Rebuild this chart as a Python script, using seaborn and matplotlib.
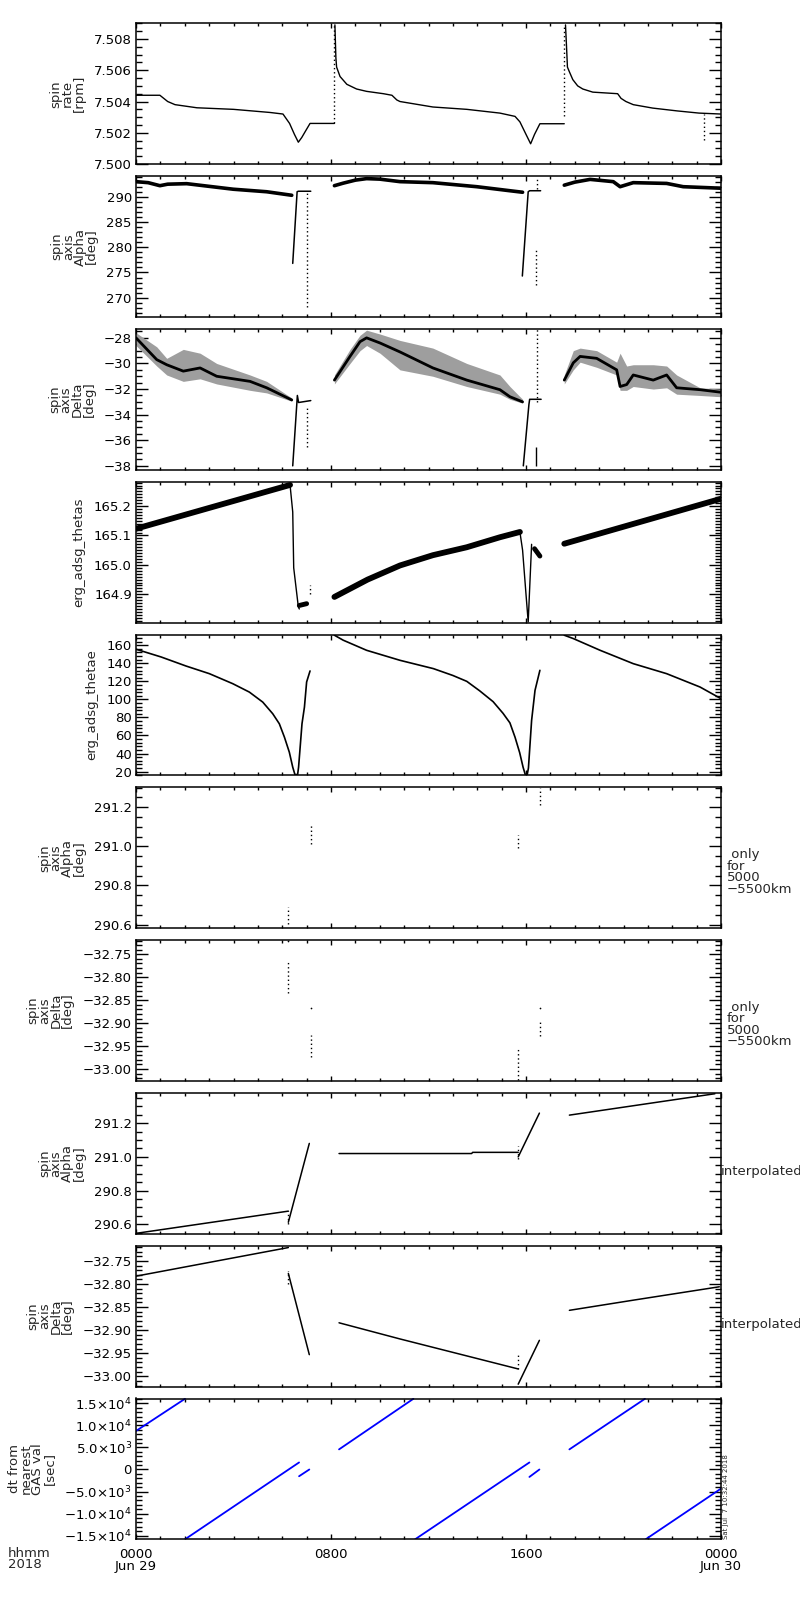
import numpy as np
import pandas as pd
import seaborn as sns
import matplotlib.pyplot as plt
from matplotlib.ticker import MultipleLocator, FuncFormatter

# time axis is hours since 0000 Jun 29 2018

# --- spin rate [rpm]
rate_a_t = [0.0, 0.98, 1.3, 1.6, 2.5, 4.0, 5.5, 6.03, 6.30, 6.50, 6.66, 6.80, 6.95, 7.14, 8.14]
rate_a_v = [7.5044, 7.5044, 7.5040, 7.5038, 7.5036, 7.5035, 7.5033, 7.5032, 7.5026, 7.5019,
            7.5014, 7.5017, 7.5021, 7.5026, 7.5026]
rate_b_t = [8.16, 8.20, 8.23, 8.37, 8.65, 9.05, 9.46, 10.15, 10.50, 10.70, 10.83, 12.18, 13.57,
            14.93, 15.55, 15.75, 16.00, 16.19, 16.35, 16.57, 17.57]
rate_b_v = [7.5089, 7.5068, 7.5062, 7.5056, 7.5051, 7.5048, 7.50465, 7.5045, 7.5044, 7.5041,
            7.5040, 7.50365, 7.5035, 7.50326, 7.50305, 7.5027, 7.5019, 7.5013, 7.5019, 7.50258, 7.50258]
rate_c_t = [17.62, 17.66, 17.70, 17.78, 17.92, 18.12, 18.33, 18.74, 19.76, 19.90, 20.10, 20.40,
            21.20, 22.20, 23.10, 24.0]
rate_c_v = [7.5089, 7.5076, 7.5062, 7.5059, 7.5054, 7.5050, 7.5048, 7.5046, 7.5045, 7.5042,
            7.5040, 7.5038, 7.50358, 7.5034, 7.50326, 7.5032]
rate_spike_t = [8.14, 17.57, 23.31]
rate_spike_lo = [7.5026, 7.5031, 7.50155]
rate_spike_hi = [7.5089, 7.5088, 7.5032]

# --- spin axis Alpha [deg]
alpha_a_t = [0.0, 0.5, 0.98, 1.3, 2.08, 3.99, 5.36, 6.39]
alpha_a_v = [293.0, 292.8, 292.2, 292.5, 292.6, 291.5, 291.0, 290.3]
alpha_b_t = [6.43, 6.61, 6.66, 7.17]
alpha_b_v = [276.8, 291.0, 291.1, 291.1]
alpha_c_t = [8.14, 8.50, 9.00, 9.46, 10.00, 10.83, 12.18, 13.98, 15.34, 15.86]
alpha_c_v = [292.2, 292.7, 293.3, 293.6, 293.5, 293.0, 292.8, 292.0, 291.2, 290.9]
alpha_d_t = [15.85, 16.09, 16.15, 16.60]
alpha_d_v = [274.3, 291.0, 291.2, 291.2]
alpha_e_t = [17.57, 18.00, 18.63, 19.58, 19.86, 20.40, 21.77, 22.45, 24.0]
alpha_e_v = [292.3, 292.9, 293.45, 293.0, 292.0, 292.8, 292.65, 292.0, 291.7]
alpha_spike_t = [7.0, 16.42, 16.46]
alpha_spike_lo = [268.2, 272.5, 291.5]
alpha_spike_hi = [291.0, 279.4, 293.5]

# --- spin axis Delta [deg]  (centre of the point cloud, plus its upper / lower edge)
delta_a_t = [0.0, 0.85, 1.26, 1.94, 2.63, 3.31, 4.68, 5.36, 6.39]
delta_a_v = [-28.0, -29.7, -30.1, -30.6, -30.35, -31.0, -31.4, -31.9, -32.85]
delta_a_hi = [-27.6, -28.7, -29.6, -28.9, -29.2, -30.0, -30.9, -31.4, -32.7]
delta_a_lo = [-28.6, -30.2, -30.9, -31.4, -31.2, -31.6, -32.1, -32.3, -32.95]
delta_b_t = [6.43, 6.62, 6.67, 7.17]
delta_b_v = [-38.0, -32.5, -33.05, -32.9]
delta_c_t = [8.14, 8.78, 9.19, 9.46, 10.01, 10.83, 12.18, 13.57, 14.93, 15.34, 15.86]
delta_c_v = [-31.3, -29.45, -28.3, -28.0, -28.4, -29.1, -30.35, -31.3, -32.05, -32.6, -33.0]
delta_c_hi = [-30.9, -28.9, -27.8, -27.4, -27.7, -28.2, -28.8, -30.0, -30.9, -31.8, -32.8]
delta_c_lo = [-31.6, -30.0, -29.0, -28.6, -29.2, -30.5, -31.0, -31.8, -32.4, -32.8, -33.1]
delta_d_t = [15.89, 16.12, 16.15, 16.62]
delta_d_v = [-38.0, -33.2, -32.8, -32.8]
delta_e_t = [17.57, 17.94, 18.22, 18.90, 19.72, 19.86, 20.13, 20.40, 21.22, 21.77, 22.18, 23.14, 24.0]
delta_e_v = [-31.3, -29.95, -29.45, -29.6, -30.5, -31.8, -31.65, -30.9, -31.3, -30.9, -31.9, -32.05, -32.25]
delta_e_hi = [-30.9, -29.0, -28.8, -29.0, -29.9, -29.2, -30.2, -30.1, -30.1, -30.2, -30.9, -31.9, -32.0]
delta_e_lo = [-31.6, -30.5, -29.9, -30.3, -30.9, -32.1, -32.1, -31.8, -32.0, -31.9, -32.4, -32.5, -32.6]
delta_spike_t = [7.0, 16.46]
delta_spike_lo = [-36.5, -33.0]
delta_spike_hi = [-33.5, -27.3]

# --- erg_adsg_thetas
thetas_a_t = [0.0, 6.32]
thetas_a_v = [165.123, 165.272]
thetas_b_t = [6.32, 6.43, 6.47, 6.66, 6.70]
thetas_b_v = [165.272, 165.18, 164.99, 164.857, 164.85]
thetas_k_t = [6.70, 7.00]
thetas_k_v = [164.862, 164.868]
thetas_c_t = [8.14, 9.50, 10.83, 12.18, 13.57, 14.93, 15.75]
thetas_c_v = [164.891, 164.950, 164.998, 165.033, 165.060, 165.094, 165.112]
thetas_d_t = [15.75, 15.86, 16.00, 16.09, 16.23]
thetas_d_v = [165.112, 165.05, 164.90, 164.806, 165.07]
thetas_l_t = [16.35, 16.57]
thetas_l_v = [165.055, 165.03]
thetas_e_t = [17.57, 24.0]
thetas_e_v = [165.072, 165.225]

# --- erg_adsg_thetae
thetae_a_t = [0.0, 1.03, 2.05, 3.01, 3.97, 4.65, 5.20, 5.61, 5.88, 6.09, 6.29, 6.43, 6.52, 6.63,
              6.67, 6.81, 6.91, 7.00, 7.14]
thetae_a_v = [155.6, 147.0, 137.0, 128.5, 117.4, 108.1, 97.0, 84.1, 73.0, 58.1, 41.5, 24.9, 16.7,
              16.7, 24.9, 73.0, 91.4, 119.3, 131.5]
thetae_b_t = [8.14, 8.50, 9.46, 10.83, 12.20, 13.00, 13.57, 14.10, 14.65, 15.06, 15.34, 15.55,
              15.74, 15.88, 15.97, 16.05, 16.10, 16.23, 16.37, 16.57]
thetae_b_v = [171.1, 165.6, 154.4, 143.3, 134.1, 126.5, 120.0, 109.5, 97.5, 84.5, 74.0, 58.1,
              41.0, 24.9, 16.7, 16.7, 24.0, 76.7, 110.0, 132.2]
thetae_c_t = [17.57, 17.94, 19.04, 20.40, 21.77, 23.14, 24.0]
thetae_c_v = [171.1, 167.4, 154.4, 139.6, 128.5, 113.7, 100.8]

# --- spin axis Alpha / Delta only for 5000-5500km
only_alpha_t = [6.25, 7.17, 15.68, 16.57]
only_alpha_lo = [290.604, 291.01, 290.99, 291.212]
only_alpha_hi = [290.689, 291.11, 291.058, 291.297]
only_delta_t = [6.25, 7.17, 15.68, 16.57]
only_delta_lo = [-32.835, -32.973, -33.024, -32.929]
only_delta_hi = [-32.765, -32.925, -32.955, -32.893]
only_delta_dot_t = [6.25, 7.17, 16.57]
only_delta_dot_v = [-32.72, -32.867, -32.867]

# --- spin axis Alpha / Delta interpolated
interp_alpha_a_t = [0.0, 6.25]
interp_alpha_a_v = [290.546, 290.678]
interp_alpha_b_t = [6.25, 7.11]
interp_alpha_b_v = [290.612, 291.08]
interp_alpha_c_t = [8.33, 13.77, 13.81, 15.68]
interp_alpha_c_v = [291.02, 291.02, 291.027, 291.027]
interp_alpha_d_t = [15.68, 16.55]
interp_alpha_d_v = [291.0, 291.26]
interp_alpha_e_t = [17.78, 23.75]
interp_alpha_e_v = [291.248, 291.375]
interp_alpha_spike_t = [6.25, 15.68]
interp_alpha_spike_lo = [290.60, 290.99]
interp_alpha_spike_hi = [290.68, 291.064]

interp_delta_a_t = [0.0, 6.25]
interp_delta_a_v = [-32.783, -32.721]
interp_delta_b_t = [6.25, 7.11]
interp_delta_b_v = [-32.777, -32.953]
interp_delta_c_t = [8.33, 10.83, 15.68]
interp_delta_c_v = [-32.884, -32.919, -32.984]
interp_delta_d_t = [15.68, 16.55]
interp_delta_d_v = [-33.017, -32.922]
interp_delta_e_t = [17.78, 20.40, 23.93]
interp_delta_e_v = [-32.857, -32.835, -32.806]
interp_delta_spike_t = [6.25, 15.68]
interp_delta_spike_lo = [-32.80, -32.984]
interp_delta_spike_hi = [-32.772, -32.95]

# --- dt from nearest GAS val [sec]
dt_segs_t = [[0.0, 2.01], [2.01, 6.69], [6.69, 7.11], [8.33, 11.38],
             [11.45, 16.14], [16.14, 16.55], [17.78, 20.88], [20.91, 24.0]]
dt_segs_v = [[8725, 16015], [-15810, 1595], [-1526, 0], [4556, 16015],
             [-15810, 1595], [-1686, 0], [4556, 16015], [-15810, -4328]]

x_ticks = [0, 8, 16, 24]
x_labels = ['0000\nJun 29', '0800', '1600', '0000\nJun 30']

sns.set_style('ticks')
plt.rcParams['font.family'] = ['DejaVu Sans']
plt.rcParams['axes.linewidth'] = 1.1
plt.rcParams['axes.edgecolor'] = 'black'


def draw(ax, segs_t, segs_v, color='black', lw=1.0, ls='-'):
    frames = [pd.DataFrame({'t': t, 'v': v, 'seg': i}) for i, (t, v) in enumerate(zip(segs_t, segs_v))]
    df = pd.concat(frames, ignore_index=True)
    sns.lineplot(data=df, x='t', y='v', units='seg', estimator=None, sort=False,
                 color=color, linewidth=lw, linestyle=ls, ax=ax, legend=False)


def spikes(ax, t, lo, hi, ls=(0, (1, 2)), lw=1.0):
    ax.vlines(t, lo, hi, colors='black', linestyles=[ls], linewidth=lw)


def fix_minus(fmt):
    return FuncFormatter(lambda v, p: (fmt % v).replace('-', '\u2212'))


def dt_fmt(v, p):
    if abs(v) < 1e-6:
        return '0'
    e = int(np.floor(np.log10(abs(v))))
    m = v / 10 ** e
    s = r'%.1f$\times$10$^{%d}$' % (abs(m), e)
    return ('\u2212' if v < 0 else '') + s


fig = plt.figure(figsize=(8, 16), dpi=100)
axes = []
for i in range(10):
    top = 23.3 + 152.8 * i
    ax = fig.add_axes([136 / 800, 1 - (top + 140.8) / 1600, 585 / 800, 140.8 / 1600])
    axes.append(ax)

alpha_lbl = 'spin\naxis\nAlpha\n[deg]'
delta_lbl = 'spin\naxis\nDelta\n[deg]'
specs = [
    ('spin\nrate\n[rpm]', (7.500, 7.509), 0.002, 0.0005, '%.3f'),
    (alpha_lbl, (266.2, 294.1), 5, 1, '%d'),
    (delta_lbl, (-38.3, -27.3), 2, 0.5, '%d'),
    ('erg_adsg_thetas', (164.804, 165.283), 0.1, 0.01, '%.1f'),
    ('erg_adsg_thetae', (15.9, 171.9), 20, 4, '%d'),
    (alpha_lbl, (290.582, 291.302), 0.2, 0.05, '%.1f'),
    (delta_lbl, (-33.026, -32.719), 0.05, 0.01, '%.2f'),
    (alpha_lbl, (290.544, 291.38), 0.2, 0.05, '%.1f'),
    (delta_lbl, (-33.022, -32.717), 0.05, 0.01, '%.2f'),
    ('dt from\nnearest\nGAS val\n[sec]', (-15810, 16080), 5000, 1000, None),
]

# panel 1
ax = axes[0]
draw(ax, [rate_a_t, rate_b_t, rate_c_t], [rate_a_v, rate_b_v, rate_c_v], lw=1.0)
spikes(ax, rate_spike_t, rate_spike_lo, rate_spike_hi)

# panel 2
ax = axes[1]
draw(ax, [alpha_a_t, alpha_c_t, alpha_e_t], [alpha_a_v, alpha_c_v, alpha_e_v], lw=2.6)
draw(ax, [alpha_b_t, alpha_d_t], [alpha_b_v, alpha_d_v], lw=1.1)
spikes(ax, alpha_spike_t, alpha_spike_lo, alpha_spike_hi)

# panel 3
ax = axes[2]
for t, lo, hi in [(delta_a_t, delta_a_lo, delta_a_hi), (delta_c_t, delta_c_lo, delta_c_hi),
                  (delta_e_t, delta_e_lo, delta_e_hi)]:
    ax.fill_between(t, lo, hi, color='0.62', linewidth=0)
draw(ax, [delta_a_t, delta_c_t, delta_e_t], [delta_a_v, delta_c_v, delta_e_v], lw=2.0)
draw(ax, [delta_b_t, delta_d_t], [delta_b_v, delta_d_v], lw=1.1)
spikes(ax, delta_spike_t, delta_spike_lo, delta_spike_hi)
spikes(ax, [16.40], [-38.0], [-36.5], ls='-')

# panel 4
ax = axes[3]
draw(ax, [thetas_a_t, thetas_c_t, thetas_e_t], [thetas_a_v, thetas_c_v, thetas_e_v], lw=4.2)
draw(ax, [thetas_b_t, thetas_d_t], [thetas_b_v, thetas_d_v], lw=1.0)
draw(ax, [thetas_k_t, thetas_l_t], [thetas_k_v, thetas_l_v], lw=3.5)
spikes(ax, [7.14], [164.90], [164.93])

# panel 5
ax = axes[4]
draw(ax, [thetae_a_t, thetae_b_t, thetae_c_t], [thetae_a_v, thetae_b_v, thetae_c_v], lw=1.2)

# panel 6, 7
spikes(axes[5], only_alpha_t, only_alpha_lo, only_alpha_hi)
spikes(axes[6], only_delta_t, only_delta_lo, only_delta_hi)
axes[6].scatter(only_delta_dot_t, only_delta_dot_v, s=1.5, color='black', linewidths=0)

# panel 8
ax = axes[7]
draw(ax, [interp_alpha_a_t, interp_alpha_b_t, interp_alpha_c_t, interp_alpha_d_t, interp_alpha_e_t],
     [interp_alpha_a_v, interp_alpha_b_v, interp_alpha_c_v, interp_alpha_d_v, interp_alpha_e_v], lw=1.1)
spikes(ax, interp_alpha_spike_t, interp_alpha_spike_lo, interp_alpha_spike_hi)

# panel 9
ax = axes[8]
draw(ax, [interp_delta_a_t, interp_delta_b_t, interp_delta_c_t, interp_delta_d_t, interp_delta_e_t],
     [interp_delta_a_v, interp_delta_b_v, interp_delta_c_v, interp_delta_d_v, interp_delta_e_v], lw=1.1)
spikes(ax, interp_delta_spike_t, interp_delta_spike_lo, interp_delta_spike_hi)

# panel 10
draw(axes[9], dt_segs_t, dt_segs_v, color='#0000ff', lw=1.3)

for ax, (lbl, ylim, major, minor, fmt) in zip(axes, specs):
    ax.set_xlim(0, 24)
    ax.set_ylim(*ylim)
    ax.set_xticks(x_ticks)
    ax.xaxis.set_minor_locator(MultipleLocator(1))
    ax.yaxis.set_major_locator(MultipleLocator(major))
    ax.yaxis.set_minor_locator(MultipleLocator(minor))
    if fmt is None:
        ax.yaxis.set_major_formatter(FuncFormatter(dt_fmt))
    else:
        ax.yaxis.set_major_formatter(fix_minus(fmt))
    ax.tick_params(axis='both', which='both', direction='in', colors='black',
                   top=True, right=True, width=1.0, labelsize=9.5)
    ax.tick_params(axis='y', which='major', length=8.5, pad=3)
    ax.tick_params(axis='y', which='minor', length=4.3)
    ax.tick_params(axis='x', which='major', length=3.5, pad=6.5)
    ax.tick_params(axis='x', which='minor', length=2.5)
    ax.set_xlabel('')
    ax.set_ylabel(lbl, fontsize=9.5, linespacing=0.85, labelpad=6)
    for s in ax.spines.values():
        s.set_visible(True)
        s.set_linewidth(1.1)
    if ax is not axes[9]:
        ax.tick_params(axis='x', labelbottom=False)

axes[9].set_xticklabels(x_labels, fontsize=9.5, linespacing=0.85)

for ax in (axes[5], axes[6]):
    ax.text(1.01, 0.40, ' only\nfor\n5000\n\u22125500km', transform=ax.transAxes,
            ha='left', va='center', fontsize=9.5, linespacing=0.85)
for ax in (axes[7], axes[8]):
    ax.text(1.0, 0.44, 'interpolated', transform=ax.transAxes,
            ha='left', va='center', fontsize=9.5)

axes[9].text(1.003, 0.0, 'Sat Jul  7 10:32:44 2018', transform=axes[9].transAxes,
             rotation=90, ha='left', va='bottom', fontsize=5)
fig.text(0.01, 1 - 1547 / 1600, 'hhmm\n2018', ha='left', va='top', fontsize=9.5, linespacing=0.85)

fig.savefig('out.png', dpi=100, facecolor='white')
